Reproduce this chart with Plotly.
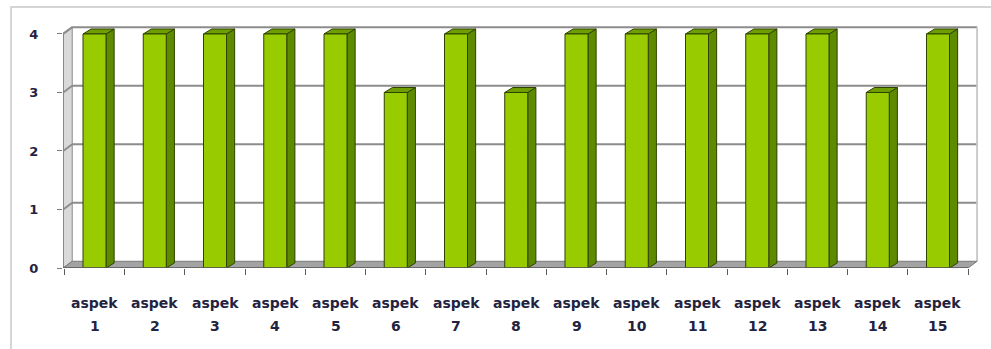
import plotly.graph_objects as go

# Data
categories = [f"aspek {i}" for i in range(1, 16)]
values = [4, 4, 4, 4, 4, 3, 4, 3, 4, 4, 4, 4, 4, 3, 4]
y_ticks = [0, 1, 2, 3, 4]

# 3D look parameters (in axis units)
bar_w = 0.382          # front face width of a bar
bar_dx, bar_dy = 0.135, 0.085   # depth offset of bar side/top faces
wall_dx, wall_dy = 0.15, 0.115  # depth offset of walls/floor
x_left, x_right = -0.52, 14.5
y_top = max(y_ticks)

FRONT = "#99cc00"
SIDE = "#5e8a00"
TOP = "#6f9e00"
EDGE = "#2f4200"
GRID = "#8c8c8c"

fig = go.Figure()


def poly(xs, ys, fill, line_color, width=1):
    fig.add_trace(go.Scatter(
        x=xs, y=ys, mode="lines", fill="toself", fillcolor=fill,
        line=dict(color=line_color, width=width), hoverinfo="skip",
        showlegend=False))


# back wall gridlines (with the diagonal run across the left wall)
gx, gy = [], []
for v in y_ticks[1:]:
    gx += [x_left, x_left + wall_dx, x_right + wall_dx, None]
    gy += [v, v + wall_dy, v + wall_dy, None]
fig.add_trace(go.Scatter(x=gx, y=gy, mode="lines",
                         line=dict(color=GRID, width=2),
                         hoverinfo="skip", showlegend=False))

# right edge of back wall
fig.add_trace(go.Scatter(x=[x_right + wall_dx, x_right + wall_dx],
                         y=[wall_dy, y_top + wall_dy], mode="lines",
                         line=dict(color="#c8c8c8", width=2),
                         hoverinfo="skip", showlegend=False))

# left wall
poly([x_left, x_left, x_left + wall_dx, x_left + wall_dx, x_left],
     [0, y_top, y_top + wall_dy, wall_dy, 0], "#d9d9d9", "#8a8a8a", 1)
# gridline traces over the left wall
lx, ly = [], []
for v in y_ticks[1:]:
    lx += [x_left, x_left + wall_dx, None]
    ly += [v, v + wall_dy, None]
fig.add_trace(go.Scatter(x=lx, y=ly, mode="lines",
                         line=dict(color=GRID, width=2),
                         hoverinfo="skip", showlegend=False))

# floor
poly([x_left, x_right, x_right + wall_dx, x_left + wall_dx, x_left],
     [0, 0, wall_dy, wall_dy, 0], "#a3a3a3", "#7a7a7a", 1)

# bars: front, side and top faces
fx, fy, sx, sy, tx, ty = [], [], [], [], [], []
for i, v in enumerate(values):
    a, b = i - bar_w / 2, i + bar_w / 2
    fx += [a, b, b, a, a, None]
    fy += [0, 0, v, v, 0, None]
    sx += [b, b + bar_dx, b + bar_dx, b, b, None]
    sy += [0, bar_dy, v + bar_dy, v, 0, None]
    tx += [a, b, b + bar_dx, a + bar_dx, a, None]
    ty += [v, v, v + bar_dy, v + bar_dy, v, None]
poly(sx, sy, SIDE, EDGE)
poly(tx, ty, TOP, EDGE)
poly(fx, fy, FRONT, EDGE)

# front edges of the chart box
fig.add_trace(go.Scatter(x=[x_left, x_left], y=[0, y_top], mode="lines",
                         line=dict(color="#7a7a7a", width=1),
                         hoverinfo="skip", showlegend=False))
fig.add_trace(go.Scatter(x=[x_left, x_right], y=[0, 0], mode="lines",
                         line=dict(color="#5a5a5a", width=1.5),
                         hoverinfo="skip", showlegend=False))

# category labels, two lines each
FONT = dict(family="DejaVu Sans", size=14, color="#23233f")
for i, c in enumerate(categories):
    word, num = c.split(" ")
    fig.add_annotation(x=i, xref="x", y=-0.143, yref="paper",
                       text=f"<b>{word}</b>", showarrow=False,
                       font=FONT, xanchor="center", yanchor="middle")
    fig.add_annotation(x=i, xref="x", y=-0.232, yref="paper",
                       text=f"<b>{num}</b>", showarrow=False,
                       font=FONT, xanchor="center", yanchor="middle")

# outer frame
fig.add_shape(type="rect", xref="paper", yref="paper",
              x0=-0.0568, x1=1.03, y0=-0.4, y1=1.0524,
              line=dict(color="#c8c8c8", width=1.5), layer="below")

fig.update_layout(
    width=991, height=349,
    margin=dict(l=63, r=13, t=20, b=81),
    paper_bgcolor="white", plot_bgcolor="white",
    xaxis=dict(range=[-0.523, 14.664], tickvals=[k - 0.5 for k in range(16)],
               showticklabels=False, ticks="outside", ticklen=6,
               tickcolor="#5a5a5a", showgrid=False, zeroline=False,
               showline=False, fixedrange=True),
    yaxis=dict(range=[0, 4.239], tickvals=y_ticks,
               ticktext=[f"<b>{t}</b>" for t in y_ticks],
               ticks="outside", ticklen=5, tickcolor="#7a7a7a",
               tickfont=dict(FONT, size=13), ticklabelstandoff=16,
               showgrid=False, zeroline=False, showline=False,
               fixedrange=True),
)

fig.write_html("out.html")
